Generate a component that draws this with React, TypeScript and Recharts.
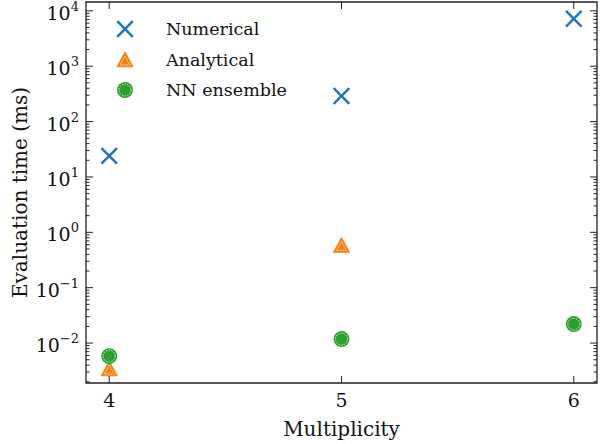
import {
  ScatterChart,
  Scatter,
  XAxis,
  YAxis,
  Legend,
  ReferenceArea,
} from "recharts";

// multiplicity on x, evaluation time (ms) on a log y axis
const multiplicity = [4, 5, 6];
const numericalMs = [24, 290, 7200];
const analyticalMs = [0.0034, 0.58];
const nnEnsembleMs = [0.0058, 0.0118, 0.022];

const seriesNames = ["Numerical", "Analytical", "NN ensemble"];
const xTicks = [4, 5, 6];
const Y_MIN = 0.0019;
const Y_MAX = 14450;
const X_MIN = 3.9;
const X_MAX = 6.1;

const BLUE = "#1f77b4";
const ORANGE = "#ff7f0e";
const GREEN = "#2ca02c";
const FONT = '"DejaVu Serif", serif';

const toPoints = (ys: number[]) =>
  ys.map((y, i) => ({ x: multiplicity[i], y }));

const numericalData = toPoints(numericalMs);
const analyticalData = toPoints(analyticalMs);
const nnData = toPoints(nnEnsembleMs);

// major + minor ticks (2..9 x 10^k) inside the domain
const yTicks: number[] = [];
for (let k = -3; k <= 4; k++) {
  for (let m = 1; m <= 9; m++) {
    const v = m * Math.pow(10, k);
    if (v >= Y_MIN && v <= Y_MAX) yTicks.push(Number(v.toPrecision(3)));
  }
}

const PLOT = { left: 86, right: 597, top: 2, bottom: 383 };

const Cross = ({ cx, cy, r = 7.8 }: any) => (
  <g stroke={BLUE} strokeWidth={2.5} strokeLinecap="butt">
    <line x1={cx - r} y1={cy - r} x2={cx + r} y2={cy + r} />
    <line x1={cx - r} y1={cy + r} x2={cx + r} y2={cy - r} />
  </g>
);

const Triangle = ({ cx, cy, r = 8 }: any) => (
  <g>
    <polygon
      points={`${cx},${cy - r} ${cx - r},${cy + r * 0.85} ${cx + r},${cy + r * 0.85}`}
      fill={ORANGE}
      stroke={ORANGE}
      strokeWidth={1}
    />
    <polygon
      points={`${cx},${cy - r + 4} ${cx - r + 3.2},${cy + r * 0.85 - 1.8} ${cx + r - 3.2},${cy + r * 0.85 - 1.8}`}
      fill="none"
      stroke="#fff"
      strokeWidth={0.8}
      strokeDasharray="1.5 1.2"
    />
  </g>
);

const Dot = ({ cx, cy, r = 8 }: any) => (
  <g>
    <circle cx={cx} cy={cy} r={r} fill={GREEN} />
    <circle
      cx={cx}
      cy={cy}
      r={r - 2}
      fill="none"
      stroke="#fff"
      strokeWidth={0.8}
      strokeDasharray="1.5 1.2"
    />
  </g>
);

const markers: Record<string, any> = {
  Numerical: Cross,
  Analytical: Triangle,
  "NN ensemble": Dot,
};

const textStyle = { fontFamily: FONT, fill: "#111" };

const YTick = (props: any) => {
  const { y, payload } = props;
  const v = payload.value;
  const lg = Math.log10(v);
  const major = Math.abs(lg - Math.round(lg)) < 1e-6;
  const len = major ? 7 : 3.5;
  const e = Math.round(lg);
  return (
    <g>
      <line x1={PLOT.left} x2={PLOT.left + len} y1={y} y2={y} stroke="#222" strokeWidth={1} />
      <line x1={PLOT.right} x2={PLOT.right - len} y1={y} y2={y} stroke="#222" strokeWidth={1} />
      {major && (
        <text x={PLOT.left - 7} y={y + 9} textAnchor="end" fontSize={19} style={textStyle}>
          10
          <tspan dy={-9} fontSize={13}>
            {e < 0 ? "\u2212" + Math.abs(e) : e}
          </tspan>
        </text>
      )}
    </g>
  );
};

const XTick = (props: any) => {
  const { x, payload } = props;
  return (
    <g>
      <line x1={x} x2={x} y1={PLOT.bottom} y2={PLOT.bottom - 7} stroke="#222" strokeWidth={1} />
      <line x1={x} x2={x} y1={PLOT.top} y2={PLOT.top + 7} stroke="#222" strokeWidth={1} />
      <text x={x} y={PLOT.bottom + 24} textAnchor="middle" fontSize={19} style={textStyle}>
        {payload.value}
      </text>
    </g>
  );
};

const LegendBox = (props: any) => {
  const payload = [...(props.payload || [])].sort(
    (a: any, b: any) => seriesNames.indexOf(a.value) - seriesNames.indexOf(b.value)
  );
  return (
    <div style={{ fontFamily: FONT, fontSize: 17.5, color: "#111" }}>
      {payload.map((entry: any) => {
        const M = markers[entry.value];
        return (
          <div key={entry.value} style={{ display: "flex", alignItems: "center", height: 30.5 }}>
            <svg width={30} height={30} style={{ marginRight: 26 }}>
              <M cx={15} cy={15} />
            </svg>
            <span>{entry.value}</span>
          </div>
        );
      })}
    </div>
  );
};

const App = () => {
  return (
    <div style={{ position: "absolute", left: 0, top: 0, width: 600, height: 444, background: "#fff" }}>
      <ScatterChart width={600} height={444} margin={{ top: PLOT.top, right: 600 - PLOT.right, bottom: 0, left: 0 }}>
        <XAxis
          type="number"
          dataKey="x"
          domain={[X_MIN, X_MAX]}
          ticks={xTicks}
          allowDataOverflow
          height={444 - PLOT.bottom}
          axisLine={false}
          tickLine={false}
          tick={<XTick />}
          label={(p: any) => (
            <text
              x={p.viewBox.x + p.viewBox.width / 2}
              y={436}
              textAnchor="middle"
              fontSize={20}
              style={textStyle}
            >
              Multiplicity
            </text>
          )}
        />
        <YAxis
          type="number"
          dataKey="y"
          scale="log"
          domain={[Y_MIN, Y_MAX]}
          ticks={yTicks}
          interval={0}
          allowDataOverflow
          width={PLOT.left}
          axisLine={false}
          tickLine={false}
          tick={<YTick />}
          label={(p: any) => (
            <text
              x={20}
              y={p.viewBox.y + p.viewBox.height / 2}
              transform={`rotate(-90 20 ${p.viewBox.y + p.viewBox.height / 2})`}
              textAnchor="middle"
              dominantBaseline="central"
              fontSize={20}
              style={textStyle}
            >
              Evaluation time (ms)
            </text>
          )}
        />
        <ReferenceArea
          x1={X_MIN}
          x2={X_MAX}
          y1={Y_MIN}
          y2={Y_MAX}
          fill="none"
          stroke="#222"
          strokeWidth={1.3}
          fillOpacity={0}
        />
        <Scatter name="Numerical" data={numericalData} shape={<Cross />} fill={BLUE} isAnimationActive={false} />
        <Scatter name="Analytical" data={analyticalData} shape={<Triangle />} fill={ORANGE} isAnimationActive={false} />
        <Scatter name="NN ensemble" data={nnData} shape={<Dot />} fill={GREEN} isAnimationActive={false} />
        <Legend
          layout="vertical"
          align="center"
          verticalAlign="middle"
          wrapperStyle={{ left: 110, top: 14, width: 220 }}
          content={<LegendBox />}
        />
      </ScatterChart>
    </div>
  );
};

export default App;
